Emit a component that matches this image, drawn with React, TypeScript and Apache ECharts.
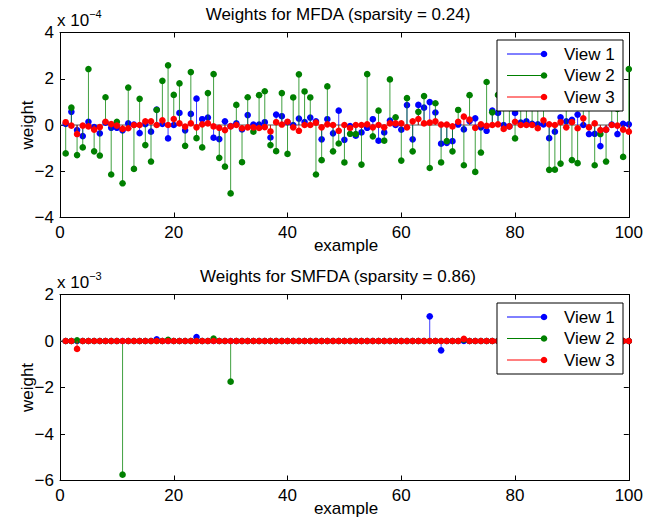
import React, { useEffect, useRef } from "react";
import * as echarts from "echarts";

// Top panel (MFDA) weights, in units of 1e-4, examples 1..100
const mfdaView1 = [
  0.05, 0.57, -0.22, -0.48, 0.14, -0.09, -0.36, 0.1, -0.12, -0.12,
  -0.23, 0.07, 0.02, -0.35, 0.04, -0.29, 0.67, 0.05, -0.58, 0.0,
  0.52, -0.23, 0.48, 1.14, 0.25, 0.32, -0.55, -0.61, 0.16, -0.05,
  0.07, -0.19, 0.43, 0.02, 0.02, 0.12, -0.54, 0.45, 0.38, 0.12,
  0.0, 0.28, 0.13, 0.32, 0.16, -0.62, 0.25, -0.36, 0.62, -0.64,
  -0.05, -0.46, -0.32, -0.12, 0.25, -0.68, -0.32, 0.19, 0.0, -0.2,
  0.86, -0.62, 0.87, 0.75, 0.99, 0.54, -0.81, -0.77, -0.7, 0.02,
  -0.19, 0.17, 0.29, -0.1, -0.25, 0.62, 0.52, 0.0, -0.06, 0.52,
  0.1, 0.16, 0.05, 0.03, 0.03, -0.57, -0.29, 0.33, 0.16, 0.22,
  0.45, 0.0, -0.39, -0.38, -0.91, -0.2, 0.02, -0.39, 0.05, 0.03,
];
const mfdaView2 = [
  -1.23, 0.75, -1.3, -0.97, 2.42, -1.14, -1.32, 1.2, -2.14, 0.14,
  -2.52, 1.62, -1.9, 1.13, -0.87, -1.58, 0.65, 1.91, 2.58, 1.3,
  1.8, -0.9, 2.29, -0.57, -0.97, 1.38, 2.2, -1.42, -1.8, -2.96,
  0.87, -1.61, 1.2, -0.29, 1.29, 1.46, -0.87, -1.13, 1.38, -1.25,
  1.19, 2.19, 1.45, 1.19, -2.14, -1.52, 1.67, -1.14, -0.8, -1.62,
  -0.38, -0.39, -1.71, 2.2, -0.49, 0.62, -0.68, 1.97, 0.33, -1.54,
  1.16, -1.14, 0.57, 1.25, -1.86, 0.94, -1.62, -0.7, -1.14, 0.65,
  -1.74, 1.29, -2.03, -1.19, 1.86, 0.55, 1.3, 0.9, 1.6, -0.58,
  0.8, 1.1, 0.75, 1.4, 0.9, -1.94, -1.93, -1.67, 1.0, -1.52,
  -1.65, 0.85, 1.3, -1.74, -0.39, -1.58, 1.1, 0.7, -1.38, 2.42,
];
const mfdaView3 = [
  0.12, -0.03, -0.39, -0.03, -0.06, -0.2, -0.09, 0.14, 0.04, -0.03,
  -0.17, -0.14, 0.0, 0.0, 0.16, 0.16, 0.0, 0.2, 0.0, 0.26,
  0.07, -0.07, 0.07, -0.1, 0.03, 0.07, -0.06, -0.12, -0.22, -0.06,
  0.0, -0.14, -0.1, -0.1, -0.13, -0.09, -0.28, 0.12, 0.02, 0.14,
  -0.1, -0.25, 0.0, 0.0, 0.1, -0.1, 0.03, 0.0, -0.25, 0.0,
  -0.13, 0.0, 0.0, 0.03, -0.1, 0.0, -0.1, 0.07, 0.07, 0.07,
  -0.1, 0.16, 0.26, 0.07, 0.1, 0.16, 0.02, 0.02, -0.06, 0.14,
  0.36, 0.23, -0.12, 0.03, -0.04, 0.0, 0.03, -0.17, -0.06, 0.14,
  0.0, 0.0, 0.0, -0.14, 0.2, 0.03, 0.0, 0.12, -0.1, 0.12,
  -0.14, 0.29, -0.1, 0.07, -0.22, -0.2, 0.0, -0.03, -0.2, -0.29,
];

// Bottom panel (SMFDA) weights, in units of 1e-3: sparse non-zero entries
const smfdaView1Idx = [17, 24, 65, 67];
const smfdaView1Val = [0.07, 0.17, 1.06, -0.4];
const smfdaView2Idx = [3, 11, 19, 27, 30, 71];
const smfdaView2Val = [0.03, -5.75, 0.05, 0.1, -1.75, 0.06];
const smfdaView3Idx = [3, 71];
const smfdaView3Val = [-0.34, 0.09];

const nExamples = 100;
const viewNames = ["View 1", "View 2", "View 3"];
const viewColors = ["#0000ff", "#008000", "#ff0000"];
const titles = ["Weights for MFDA (sparsity = 0.24)", "Weights for SMFDA (sparsity = 0.86)"];
const exponents = ["\u22124", "\u22123"];

const FONT = "'Liberation Sans', Arial, Helvetica, sans-serif";
const FS = 17;

function sparseToDense(idx: number[], val: number[]) {
  const arr = new Array(nExamples).fill(0);
  idx.forEach((k, j) => (arr[k - 1] = val[j]));
  return arr;
}

const GRIDS = [
  { left: 60, top: 32.5, width: 572, height: 185 },
  { left: 60, top: 294.5, width: 572, height: 186 },
];

function stemSeries(name: string, data: number[], color: string, g: number) {
  return {
    type: "custom",
    name,
    xAxisIndex: g * 2,
    yAxisIndex: g * 2,
    z: 3,
    data: data.map((v, i) => [i + 1, v]),
    renderItem: (params: any, api: any) => {
      const x = api.value(0);
      const y = api.value(1);
      const p0 = api.coord([x, 0]);
      const p1 = api.coord([x, y]);
      return {
        type: "group",
        children: [
          {
            type: "line",
            shape: { x1: p0[0], y1: p0[1], x2: p1[0], y2: p1[1] },
            style: { stroke: color, lineWidth: 1, opacity: 0.75 },
          },
          {
            type: "circle",
            shape: { cx: p1[0], cy: p1[1], r: 3.3 },
            style: { fill: color, stroke: null },
          },
        ],
      };
    },
  };
}

function legendGraphic(top: number): any[] {
  const left = 497;
  const w = 126;
  const h = 71;
  const Z = 100;
  const els: any[] = [
    {
      type: "rect",
      z: Z,
      shape: { x: left, y: top, width: w, height: h },
      style: { fill: "#fff", stroke: "#000", lineWidth: 1 },
    },
  ];
  viewNames.forEach((n, i) => {
    const cy = top + 14 + i * 21.5;
    els.push({
      type: "line",
      z: Z + 1,
      shape: { x1: left + 10, y1: cy, x2: left + 47, y2: cy },
      style: { stroke: viewColors[i], lineWidth: 1 },
    });
    els.push({
      type: "circle",
      z: Z + 2,
      shape: { cx: left + 47, cy, r: 3.3 },
      style: { fill: viewColors[i] },
    });
    els.push({
      type: "text",
      z: Z + 2,
      x: left + 67,
      y: cy,
      style: {
        text: n,
        fill: "#000",
        font: `${FS}px ${FONT}`,
        textVerticalAlign: "middle",
        textAlign: "left",
      },
    });
  });
  return els;
}

export default function App() {
  const ref = useRef<HTMLDivElement>(null);
  useEffect(() => {
    if (!ref.current) return;
    const chart = echarts.init(ref.current, undefined, { renderer: "svg" });
    const panels = [
      { views: [mfdaView1, mfdaView2, mfdaView3], min: -4, max: 4 },
      {
        views: [
          sparseToDense(smfdaView1Idx, smfdaView1Val),
          sparseToDense(smfdaView2Idx, smfdaView2Val),
          sparseToDense(smfdaView3Idx, smfdaView3Val),
        ],
        min: -6,
        max: 2,
      },
    ];
    const axisLine = { show: true, onZero: false, lineStyle: { color: "#000", width: 1 } };
    const tick = { show: true, inside: true, length: 5, lineStyle: { color: "#000" } };
    const label = {
      color: "#000",
      fontSize: FS,
      fontFamily: FONT,
      formatter: (v: number) => String(v).replace("-", "\u2212"),
    };
    const xAxis: any[] = [];
    const yAxis: any[] = [];
    const series: any[] = [];
    panels.forEach((p, g) => {
      xAxis.push({
        gridIndex: g, type: "value", min: 0, max: 100, interval: 20, position: "bottom",
        axisLine, axisTick: tick, axisLabel: { ...label, margin: 6 }, splitLine: { show: false },
      });
      xAxis.push({
        gridIndex: g, type: "value", min: 0, max: 100, interval: 20, position: "top",
        axisLine, axisTick: tick, axisLabel: { show: false }, splitLine: { show: false },
      });
      yAxis.push({
        gridIndex: g, type: "value", min: p.min, max: p.max, interval: 2, position: "left",
        axisLine, axisTick: tick, axisLabel: { ...label, margin: 6 }, splitLine: { show: false },
      });
      yAxis.push({
        gridIndex: g, type: "value", min: p.min, max: p.max, interval: 2, position: "right",
        axisLine, axisTick: tick, axisLabel: { show: false }, splitLine: { show: false },
      });
      series.push({
        type: "line",
        xAxisIndex: g * 2,
        yAxisIndex: g * 2,
        data: [[0, 0], [100, 0]],
        symbol: "none",
        z: 1,
        lineStyle: { color: "#555", width: 1 },
        silent: true,
      });
      p.views.forEach((d, i) => series.push(stemSeries(viewNames[i], d, viewColors[i], g)));
    });

    const graphic: any[] = [];
    GRIDS.forEach((gr, g) => {
      graphic.push({
        type: "text", x: gr.left + gr.width / 2 - 8, y: gr.top - 18,
        style: { text: titles[g], fill: "#000", font: `${FS}px ${FONT}`, textAlign: "center", textVerticalAlign: "middle" },
      });
      graphic.push({
        type: "text", x: 57, y: gr.top - 14,
        style: {
          text: "{b|x 10}{s|" + exponents[g] + "}",
          rich: {
            b: { fontSize: FS, fontFamily: FONT, fill: "#000", verticalAlign: "bottom" } as any,
            s: { fontSize: 11, fontFamily: FONT, fill: "#000", verticalAlign: "top", padding: [0, 0, 10, 0] } as any,
          },
          textVerticalAlign: "middle",
        },
      });
      graphic.push({
        type: "text", x: gr.left + gr.width / 2, y: gr.top + gr.height + 28,
        style: { text: "example", fill: "#000", font: `${FS}px ${FONT}`, textAlign: "center", textVerticalAlign: "middle" },
      });
      graphic.push({
        type: "text", x: 27, y: gr.top + gr.height / 2, rotation: Math.PI / 2,
        style: { text: "weight", fill: "#000", font: `${FS}px ${FONT}`, textAlign: "center", textVerticalAlign: "middle" },
      });
    });
    graphic.push(...legendGraphic(40));
    graphic.push(...legendGraphic(303));

    chart.setOption({
      animation: false,
      backgroundColor: "#fff",
      grid: GRIDS,
      xAxis,
      yAxis,
      series,
      graphic,
    });
    return () => chart.dispose();
  }, []);
  return (
    <div
      ref={ref}
      style={{ position: "absolute", left: 0, top: 0, width: 646, height: 529, background: "#fff" }}
    />
  );
}
